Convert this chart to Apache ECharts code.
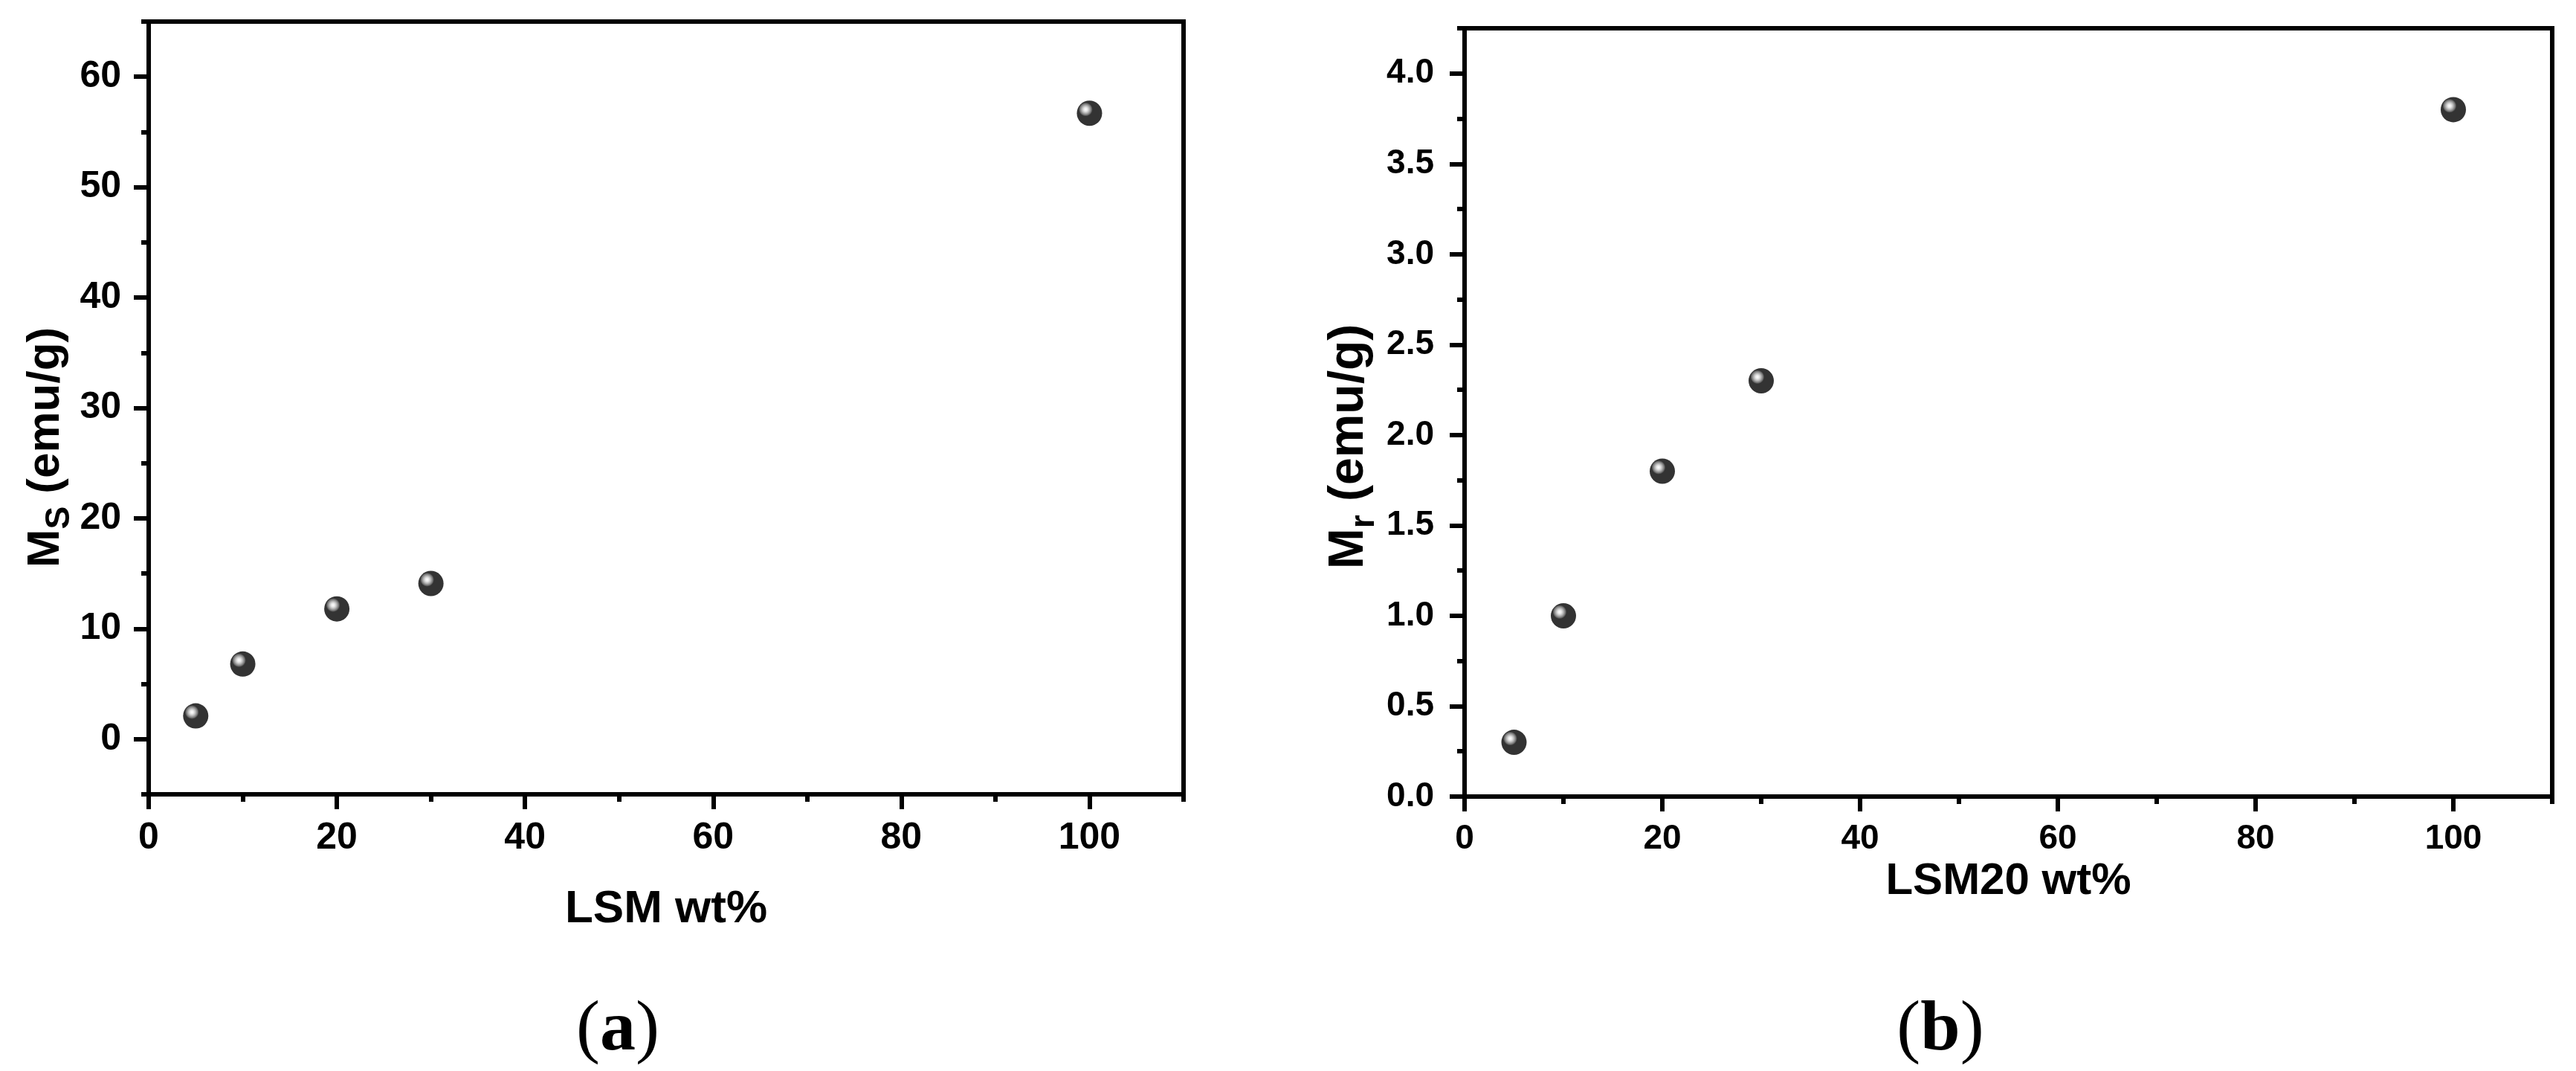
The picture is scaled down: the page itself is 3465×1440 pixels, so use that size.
<!DOCTYPE html>
<html>
<head>
<meta charset="utf-8">
<script src="https://cdn.jsdelivr.net/npm/echarts@6/dist/echarts.min.js"></script>
<style>
  html, body { margin: 0; padding: 0; background: #fff; }
  #main { width: 3465px; height: 1440px; }
</style>
</head>
<body>
<div id="main"></div>
<script>
// data
var wtA = [5, 10, 20, 30, 100];
var msA = [2.1, 6.8, 11.8, 14.1, 56.7];
var wtB = [5, 10, 20, 30, 100];
var mrB = [0.3, 1.0, 1.8, 2.3, 3.8];
var xTicks = [0, 20, 40, 60, 80, 100];
var yTicksA = [0, 10, 20, 30, 40, 50, 60];
var yTicksB = [0, 0.5, 1.0, 1.5, 2.0, 2.5, 3.0, 3.5, 4.0];

var FONT = "'Liberation Sans', Arial, sans-serif";
var SERIF = "'Liberation Serif', 'Times New Roman', serif";

// black ball with a highlight, like Origin's sphere symbol
var ball = {
  type: 'radial', x: 0.35, y: 0.35, r: 0.5,
  colorStops: [
    { offset: 0, color: '#ffffff' },
    { offset: 0.15, color: '#e0e0e0' },
    { offset: 0.3, color: '#a0a0a0' },
    { offset: 0.45, color: '#505050' },
    { offset: 0.55, color: '#000000' },
    { offset: 1, color: '#000000' }
  ]
};

function pairs(xs, ys) {
  return xs.map(function (x, i) { return [x, ys[i]]; });
}

function mainAxis(opt) {
  return {
    type: 'value',
    gridIndex: opt.grid,
    position: opt.position,
    min: opt.min, max: opt.max,
    axisLine: { show: true, onZero: false, lineStyle: { color: '#000', width: 6 } },
    axisTick: { show: true, length: 20, customValues: opt.ticks, lineStyle: { color: '#000', width: 6 } },
    axisLabel: {
      customValues: opt.ticks, margin: opt.margin, color: '#000',
      fontFamily: FONT, fontWeight: 'bold', fontSize: opt.fontSize,
      formatter: opt.formatter
    },
    splitLine: { show: false },
    name: opt.name, nameLocation: 'middle', nameGap: opt.nameGap,
    nameTextStyle: opt.nameStyle
  };
}

function minorAxis(grid, position, min, max, interval) {
  return {
    type: 'value', gridIndex: grid, position: position,
    min: min, max: max, interval: interval,
    axisLine: { show: false, onZero: false },
    axisTick: { show: true, length: 10, lineStyle: { color: '#000', width: 6 } },
    axisLabel: { show: false },
    splitLine: { show: false }
  };
}

// y title with a subscript; right padding pushes it down the axis a bit
function yName(big, sub, drop, shift) {
  return {
    padding: [0, shift, 0, 0],
    rich: {
      m: { fontFamily: FONT, fontWeight: 'bold', fontSize: big, lineHeight: big, color: '#000', verticalAlign: 'top' },
      s: { fontFamily: FONT, fontWeight: 'bold', fontSize: sub, lineHeight: sub, color: '#000', padding: [drop, 0, 0, 0] }
    }
  };
}

var chart = echarts.init(document.getElementById('main'));

var option = {
  backgroundColor: '#fff',
  animation: false,
  grid: [
    { left: 200, top: 29, width: 1392, height: 1039, show: true, borderColor: '#000', borderWidth: 6 },
    { left: 1970, top: 38, width: 1463, height: 1033, show: true, borderColor: '#000', borderWidth: 6 }
  ],
  xAxis: [
    mainAxis({ grid: 0, position: 'bottom', min: 0, max: 110, ticks: xTicks, margin: 34, fontSize: 50,
      name: 'LSM wt%', nameGap: 124,
      nameStyle: { fontFamily: FONT, fontWeight: 'bold', fontSize: 62, color: '#000' } }),
    minorAxis(0, 'bottom', 0, 110, 10),
    mainAxis({ grid: 1, position: 'bottom', min: 0, max: 110, ticks: xTicks, margin: 34, fontSize: 46,
      name: 'LSM20 wt%', nameGap: 60,
      nameStyle: { fontFamily: FONT, fontWeight: 'bold', fontSize: 60, color: '#000' } }),
    minorAxis(1, 'bottom', 0, 110, 10)
  ],
  yAxis: [
    mainAxis({ grid: 0, position: 'left', min: -5, max: 65, ticks: yTicksA, margin: 37, fontSize: 50,
      name: '{m|M}{s|S}{m| (emu/g)}', nameGap: 105, nameStyle: yName(62, 46, 38, 106) }),
    minorAxis(0, 'left', -5, 65, 5),
    mainAxis({ grid: 1, position: 'left', min: 0, max: 4.25, ticks: yTicksB, margin: 41, fontSize: 46,
      formatter: function (v) { return v.toFixed(1); },
      name: '{m|M}{s|r}{m| (emu/g)}', nameGap: 122, nameStyle: yName(66, 46, 40, 92) }),
    minorAxis(1, 'left', 0, 4.25, 0.25)
  ],
  series: [
    {
      type: 'scatter', xAxisIndex: 0, yAxisIndex: 0,
      data: pairs(wtA, msA),
      symbol: 'circle', symbolSize: 34,
      itemStyle: { color: ball }
    },
    {
      type: 'scatter', xAxisIndex: 2, yAxisIndex: 2,
      data: pairs(wtB, mrB),
      symbol: 'circle', symbolSize: 34,
      itemStyle: { color: ball }
    }
  ],
  graphic: [
    {
      type: 'text', x: 831, y: 1386,
      style: {
        text: '{p|(}{b|a}{p|)}', align: 'center', verticalAlign: 'middle',
        rich: {
          p: { fontFamily: SERIF, fontSize: 96, fill: '#000' },
          b: { fontFamily: SERIF, fontWeight: 'bold', fontSize: 96, fill: '#000' }
        }
      }
    },
    {
      type: 'text', x: 2610, y: 1386,
      style: {
        text: '{p|(}{b|b}{p|)}', align: 'center', verticalAlign: 'middle',
        rich: {
          p: { fontFamily: SERIF, fontSize: 96, fill: '#000' },
          b: { fontFamily: SERIF, fontWeight: 'bold', fontSize: 96, fill: '#000' }
        }
      }
    }
  ]
};

option && chart.setOption(option);
</script>
</body>
</html>
